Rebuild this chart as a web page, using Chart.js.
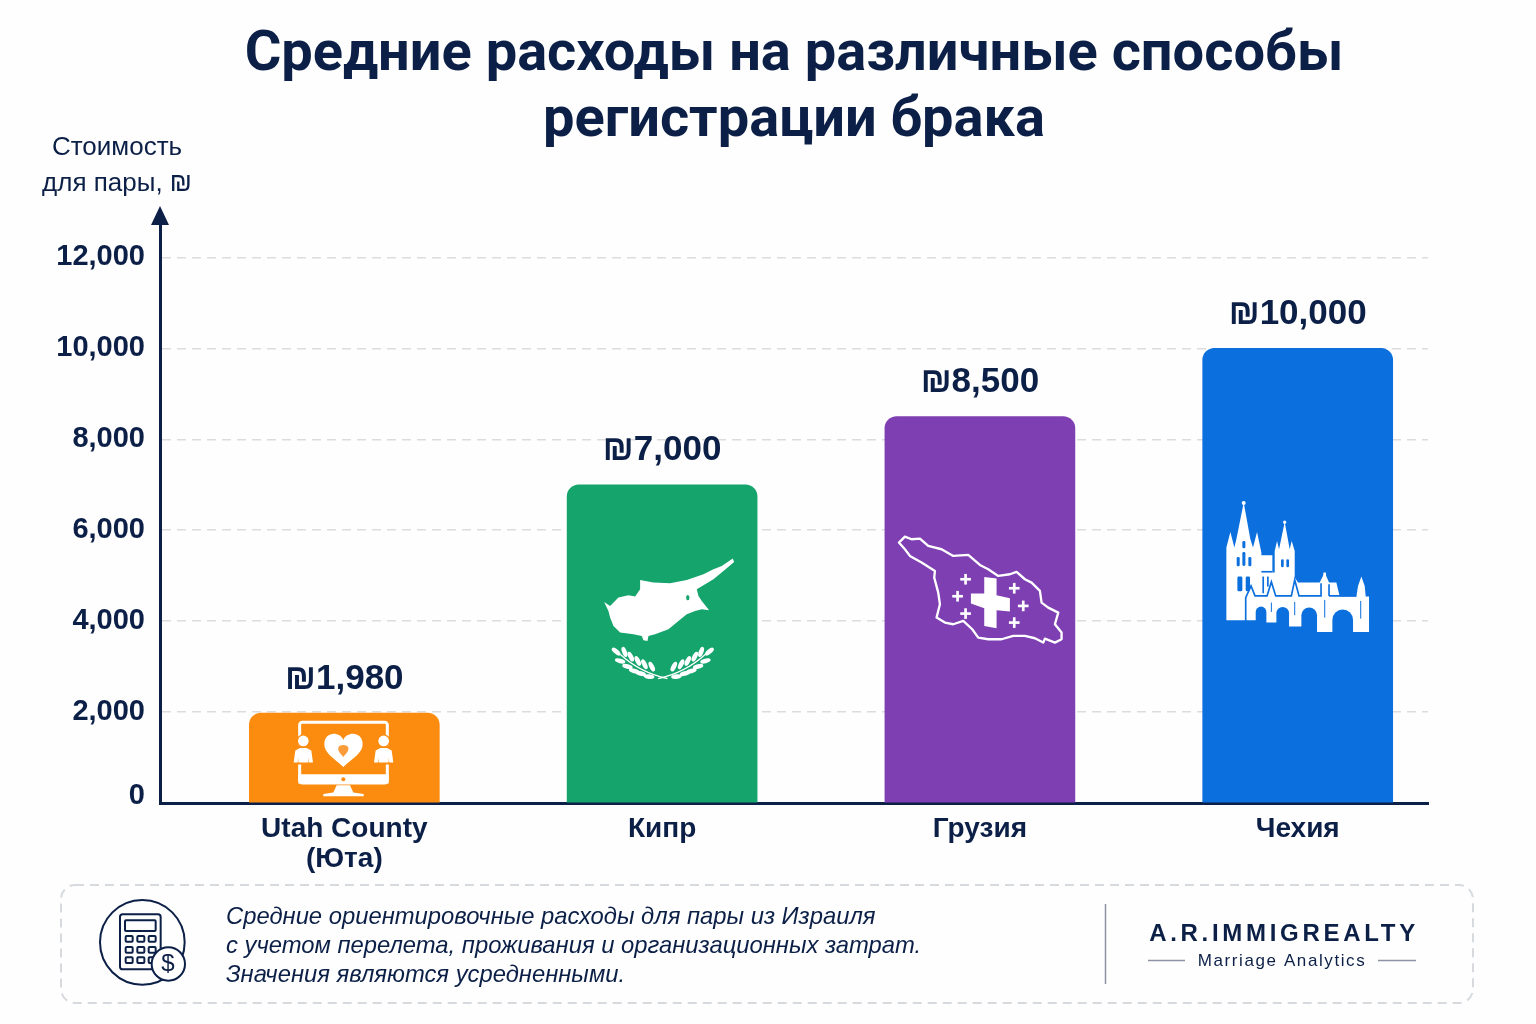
<!DOCTYPE html>
<html>
<head>
    <meta charset="utf-8">
    <script src="https://cdn.jsdelivr.net/npm/chart.js"></script>
    <style>
        html, body { margin: 0; padding: 0; background: #fff; }
        canvas { display: block; }
    </style>
</head>
<body>
    <canvas id="costChart" width="1536" height="1024"></canvas>
    <script>
        const categories = [['Utah County', '(Юта)'], ['Кипр'], ['Грузия'], ['Чехия']];
        const costs = [1980, 7000, 8500, 10000];
        const barColors = ['#fb8c0f', '#14a46c', '#7e3fb2', '#0b6fdd'];
        const yTicks = [0, 2000, 4000, 6000, 8000, 10000, 12000];
        const titleLines = ['Средние расходы на различные способы', 'регистрации брака'];
        const yTitleLines = ['Стоимость', 'для пары, ₪'];
        const noteLines = [
            'Средние ориентировочные расходы для пары из Израиля',
            'с учетом перелета, проживания и организационных затрат.',
            'Значения являются усредненными.'
        ];

        const NAVY = '#0b1f47';
        const FONT = '"Liberation Sans", Arial, sans-serif';
        const fmt = v => v.toLocaleString('en-US');

        function poly(ctx, pts) {
            ctx.beginPath();
            pts.forEach((p, i) => i ? ctx.lineTo(p[0], p[1]) : ctx.moveTo(p[0], p[1]));
            ctx.closePath();
        }
        function rrect(ctx, x, y, w, h, r) {
            ctx.beginPath();
            ctx.roundRect(x, y, w, h, r);
        }

        // icons are sketched in 3x zoom pixels, origin is the crop corner
        function iconOnline(ctx, bg) {
            ctx.fillStyle = '#fff';
            ctx.strokeStyle = '#fff';
            ctx.lineWidth = 9;
            rrect(ctx, 211, 219, 263, 182, 8);
            ctx.stroke();
            ctx.fillRect(207, 375, 271, 28);
            ctx.fillStyle = bg;
            ctx.beginPath();
            ctx.arc(342, 390, 6, 0, Math.PI * 2);
            ctx.fill();
            ctx.fillStyle = '#fff';
            poly(ctx, [[322, 408], [362, 408], [372, 430], [403, 434], [403, 441], [282, 441], [282, 434], [312, 430]]);
            ctx.fill();
            // heart
            ctx.beginPath();
            ctx.moveTo(342, 353);
            ctx.bezierCurveTo(310, 325, 285, 310, 285, 285);
            ctx.bezierCurveTo(285, 245, 332, 245, 342, 272);
            ctx.bezierCurveTo(352, 245, 400, 245, 400, 285);
            ctx.bezierCurveTo(400, 310, 374, 325, 342, 353);
            ctx.fill();
            ctx.fillStyle = '#fb9b3a';
            ctx.beginPath();
            ctx.moveTo(342, 323);
            ctx.bezierCurveTo(332, 312, 325, 305, 327, 295);
            ctx.bezierCurveTo(331, 285, 353, 285, 357, 295);
            ctx.bezierCurveTo(359, 305, 352, 312, 342, 323);
            ctx.fill();
            // two people
            [222, 463].forEach(cx => {
                ctx.fillStyle = bg;
                ctx.beginPath();
                ctx.arc(cx, 275, 20, 0, Math.PI * 2);
                ctx.fill();
                rrect(ctx, cx - 34, 290, 68, 56, 16);
                ctx.fill();
                ctx.fillStyle = '#fff';
                ctx.beginPath();
                ctx.arc(cx, 275, 16, 0, Math.PI * 2);
                ctx.fill();
                poly(ctx, [[cx - 10, 296], [cx + 10, 296], [cx + 24, 304], [cx + 29, 340], [cx + 17, 340], [cx + 15, 325], [cx + 15, 340], [cx - 15, 340], [cx - 15, 325], [cx - 17, 340], [cx - 29, 340], [cx - 24, 304]]);
                ctx.fill();
            });
        }

        function iconCyprus(ctx, bg) {
            ctx.fillStyle = '#fff';
            poly(ctx, [[42, 188], [60, 200], [85, 175], [115, 168], [135, 172], [150, 150], [150, 122], [190, 130], [240, 132], [290, 122], [340, 105], [370, 90], [395, 80], [428, 58], [432, 68], [400, 95], [370, 120], [345, 135], [320, 150], [325, 170], [335, 185], [357, 213], [335, 210], [315, 215], [290, 225], [265, 245], [235, 270], [195, 285], [175, 290], [172, 305], [160, 303], [155, 290], [130, 285], [90, 280], [70, 260], [60, 235], [55, 215]]);
            ctx.fill();
            ctx.fillStyle = bg;
            ctx.beginPath();
            ctx.ellipse(293, 175, 5, 8, 0, 0, Math.PI * 2);
            ctx.fill();
            // laurel
            ctx.fillStyle = '#fff';
            ctx.strokeStyle = '#fff';
            ctx.lineWidth = 4;
            const leaves = [[78, 337, 0.7], [103, 338, 1.2], [122, 352, 1.1], [143, 365, 1.1], [163, 375, 1.1], [185, 382, 1.1], [90, 365, 0.25], [112, 382, 0.25], [132, 395, 0.25], [152, 403, 0.25], [177, 412, 0.1]];
            [1, -1].forEach(side => {
                ctx.save();
                if (side < 0) { ctx.translate(436, 0); ctx.scale(-1, 1); }
                ctx.beginPath();
                ctx.moveTo(232, 418);
                ctx.quadraticCurveTo(150, 400, 90, 345);
                ctx.stroke();
                leaves.forEach(l => {
                    ctx.beginPath();
                    ctx.ellipse(l[0], l[1], 16, 7, l[2], 0, Math.PI * 2);
                    ctx.fill();
                });
                ctx.restore();
            });
        }

        function iconGeorgia(ctx) {
            ctx.strokeStyle = '#fff';
            ctx.fillStyle = '#fff';
            ctx.lineWidth = 7;
            ctx.lineJoin = 'round';
            poly(ctx, [[42, 55], [60, 37], [80, 45], [105, 43], [130, 65], [170, 75], [205, 95], [250, 92], [285, 122], [310, 135], [340, 155], [375, 150], [395, 143], [420, 165], [440, 175], [465, 200], [470, 235], [490, 250], [520, 265], [510, 300], [530, 325], [530, 345], [510, 355], [480, 343], [475, 355], [450, 342], [420, 335], [385, 335], [350, 345], [310, 345], [280, 340], [262, 315], [235, 290], [205, 300], [180, 295], [155, 280], [165, 240], [160, 205], [148, 160], [150, 140], [110, 115], [75, 95], [60, 75]]);
            ctx.stroke();
            poly(ctx, [[298, 158], [335, 163], [335, 213], [375, 222], [375, 262], [335, 258], [335, 312], [298, 305], [298, 252], [258, 238], [258, 208], [298, 208]]);
            ctx.fill();
            [[242, 165], [218, 216], [242, 268], [388, 192], [415, 245], [388, 295]].forEach(c => {
                ctx.fillRect(c[0] - 4, c[1] - 16, 8, 32);
                ctx.fillRect(c[0] - 16, c[1] - 4, 32, 8);
            });
        }

        function iconPrague(ctx, bg) {
            ctx.fillStyle = '#fff';
            poly(ctx, [[50, 393], [50, 175], [62, 128], [74, 175], [80, 150], [102, 40], [122, 150], [130, 175], [142, 128], [155, 190], [155, 198], [188, 198], [188, 250], [195, 250], [195, 185], [202, 155], [208, 180], [225, 98], [240, 180], [246, 155], [255, 185], [255, 265], [265, 280], [330, 280], [345, 250], [358, 280], [380, 280], [390, 322], [440, 322], [445, 290], [455, 262], [465, 290], [468, 322], [478, 322], [478, 428], [320, 428], [320, 412], [235, 412], [235, 400], [168, 400], [168, 393]]);
            ctx.fill();
            ctx.beginPath();
            ctx.arc(102, 41, 6, 0, Math.PI * 2);
            ctx.arc(225, 99, 5, 0, Math.PI * 2);
            ctx.fill();
            ctx.fillRect(341, 250, 8, 20);
            ctx.fillStyle = bg;
            // windows
            [[98, 155, 9, 22], [81, 203, 9, 28], [98, 188, 9, 42], [116, 203, 9, 28], [83, 262, 15, 44], [108, 262, 13, 44], [214, 210, 8, 24], [230, 210, 8, 24]].forEach(w => {
                rrect(ctx, w[0], w[1], w[2], w[3], 4);
                ctx.fill();
            });
            ctx.fillRect(155, 245, 33, 5);
            ctx.fillRect(158, 262, 5, 50);
            ctx.fillRect(172, 262, 5, 30);
            // arches of the bridge
            [[138, 170, 368], [200, 238, 372], [275, 322, 378], [368, 430, 392]].forEach(a => {
                const r = (a[1] - a[0]) / 2;
                ctx.beginPath();
                ctx.arc(a[0] + r, a[2], r, Math.PI, 0);
                ctx.lineTo(a[1], 430);
                ctx.lineTo(a[0], 430);
                ctx.closePath();
                ctx.fill();
            });
            ctx.strokeStyle = bg;
            ctx.lineWidth = 5;
            ctx.beginPath();
            ctx.moveTo(108, 395);
            ctx.lineTo(108, 325);
            ctx.lineTo(124, 290);
            ctx.lineTo(136, 320);
            ctx.lineTo(172, 320);
            ctx.lineTo(185, 278);
            ctx.lineTo(198, 320);
            ctx.lineTo(245, 320);
            ctx.lineTo(255, 272);
            ctx.lineTo(268, 320);
            ctx.lineTo(334, 320);
            ctx.lineTo(334, 282);
            ctx.moveTo(358, 320);
            ctx.lineTo(358, 285);
            ctx.moveTo(358, 320);
            ctx.lineTo(440, 320);
            ctx.stroke();
            [[185, 340, 368], [255, 338, 378], [345, 332, 385], [453, 335, 388]].forEach(m => {
                ctx.lineWidth = 3;
                ctx.beginPath();
                ctx.moveTo(m[0], m[1]);
                ctx.lineTo(m[0], m[2]);
                ctx.stroke();
            });
        }

        // crop corner relative to bar centre / baseline
        const icons = [
            { draw: iconOnline, dx: -115, dy: -153 },
            { draw: iconCyprus, dx: -72, dy: -263 },
            { draw: iconGeorgia, dx: -95, dy: -278 },
            { draw: iconPrague, dx: -88, dy: -313 }
        ];

        function drawCalculator(ctx) {
            ctx.save();
            ctx.translate(40, 870);
            ctx.scale(1 / 3, 1 / 3);
            ctx.strokeStyle = NAVY;
            ctx.lineWidth = 6;
            ctx.beginPath();
            ctx.arc(307, 217, 127, 0, Math.PI * 2);
            ctx.stroke();
            rrect(ctx, 240, 133, 122, 165, 8);
            ctx.stroke();
            rrect(ctx, 255, 151, 92, 32, 3);
            ctx.stroke();
            [257, 292, 326].forEach(x => [198, 231, 262].forEach(y => {
                rrect(ctx, x, y, 21, 17, 3);
                ctx.stroke();
            }));
            ctx.fillStyle = '#fff';
            ctx.beginPath();
            ctx.arc(385, 282, 50, 0, Math.PI * 2);
            ctx.fill();
            ctx.stroke();
            ctx.restore();
            ctx.fillStyle = NAVY;
            ctx.font = '24px ' + FONT;
            ctx.textAlign = 'center';
            ctx.textBaseline = 'middle';
            ctx.fillText('$', 168, 964);
        }

        const decorPlugin = {
            id: 'decor',
            beforeDraw(chart) {
                const c = chart.ctx;
                c.save();
                c.fillStyle = '#fefefe';
                c.fillRect(0, 0, chart.width, chart.height);
                c.restore();
            },
            afterDatasetsDraw(chart) {
                const c = chart.ctx;
                const area = chart.chartArea;
                const meta = chart.getDatasetMeta(0);
                const yScale = chart.scales.y;
                c.save();
                meta.data.forEach((bar, i) => {
                    const ic = icons[i];
                    c.save();
                    c.translate(bar.x + ic.dx, bar.base + ic.dy);
                    c.scale(1 / 3, 1 / 3);
                    ic.draw(c, barColors[i]);
                    c.restore();
                    c.fillStyle = NAVY;
                    c.font = 'bold 35px ' + FONT;
                    c.textAlign = 'center';
                    c.textBaseline = 'middle';
                    c.fillText('₪' + fmt(costs[i]), bar.x, bar.y - 34);
                });
                // arrow on top of the y axis
                c.fillStyle = NAVY;
                poly(c, [[area.left, area.top - 6], [area.left - 9, area.top + 13], [area.left + 9, area.top + 13]]);
                c.fill();
                // zero tick sits above the axis line
                c.font = 'bold 29px ' + FONT;
                c.textAlign = 'right';
                c.textBaseline = 'middle';
                c.fillText('0', area.left - 15, yScale.getPixelForValue(0) - 7);
                // y axis caption
                c.font = '26px ' + FONT;
                c.textAlign = 'center';
                c.fillText(yTitleLines[0], 117, 148);
                c.fillText(yTitleLines[1], 117, 184);
                // footer box
                c.strokeStyle = '#d6d9de';
                c.lineWidth = 2;
                c.setLineDash([9, 6]);
                rrect(c, 61, 885, 1412, 118, 14);
                c.stroke();
                c.setLineDash([]);
                drawCalculator(c);
                c.fillStyle = NAVY;
                c.font = 'italic 23.8px ' + FONT;
                c.textAlign = 'left';
                noteLines.forEach((t, i) => c.fillText(t, 226, 917 + i * 29));
                c.strokeStyle = '#8d93a5';
                c.lineWidth = 1.5;
                c.beginPath();
                c.moveTo(1105.5, 904);
                c.lineTo(1105.5, 984);
                c.moveTo(1148, 960.5);
                c.lineTo(1185, 960.5);
                c.moveTo(1378, 960.5);
                c.lineTo(1416, 960.5);
                c.stroke();
                c.textAlign = 'center';
                c.font = 'bold 24px ' + FONT;
                c.letterSpacing = '3.7px';
                c.fillText('A.R.IMMIGREALTY', 1284, 934);
                c.font = '17px ' + FONT;
                c.letterSpacing = '1.6px';
                c.fillText('Marriage Analytics', 1282, 961);
                c.restore();
            }
        };

        const ctx = document.getElementById('costChart').getContext('2d');
        const costChart = new Chart(ctx, {
            type: 'bar',
            data: {
                datasets: [{
                    data: costs.map((v, i) => ({ x: i, y: v })),
                    backgroundColor: barColors,
                    barThickness: 190,
                    borderRadius: { topLeft: 12, topRight: 12 },
                    borderSkipped: 'bottom'
                }]
            },
            plugins: [decorPlugin],
            options: {
                responsive: false,
                animation: false,
                layout: { padding: { top: 0, right: 108, bottom: 0, left: 0 } },
                plugins: {
                    legend: { display: false },
                    tooltip: { enabled: false },
                    title: {
                        display: true,
                        fullSize: false,
                        text: titleLines,
                        color: NAVY,
                        font: { family: 'Roboto, ' + FONT, size: 56, weight: 'bold', lineHeight: 66 / 56 },
                        padding: { top: 23, bottom: 57 }
                    }
                },
                scales: {
                    x: {
                        type: 'linear',
                        offset: false,
                        min: -0.58,
                        max: 3.41,
                        afterBuildTicks: axis => { axis.ticks = categories.map((c, i) => ({ value: i })); },
                        afterFit: axis => { axis.height = 221; },
                        grid: { display: false },
                        border: { color: NAVY, width: 3 },
                        ticks: {
                            autoSkip: false,
                            maxRotation: 0,
                            padding: 3,
                            color: NAVY,
                            font: { family: FONT, size: 28, weight: 'bold', lineHeight: 30 / 28 },
                            callback: v => categories[v]
                        }
                    },
                    y: {
                        min: 0,
                        max: 13000,
                        afterBuildTicks: axis => { axis.ticks = yTicks.map(v => ({ value: v })); },
                        afterFit: axis => { axis.width = 160; },
                        grid: { color: '#dcdcdc', lineWidth: 1.5, drawTicks: false },
                        border: { color: NAVY, width: 3, dash: [9, 6] },
                        ticks: {
                            padding: 15,
                            color: NAVY,
                            font: { family: FONT, size: 29, weight: 'bold' },
                            callback: v => v === 0 ? '' : fmt(v)
                        }
                    }
                }
            }
        });
    </script>
</body>
</html>
